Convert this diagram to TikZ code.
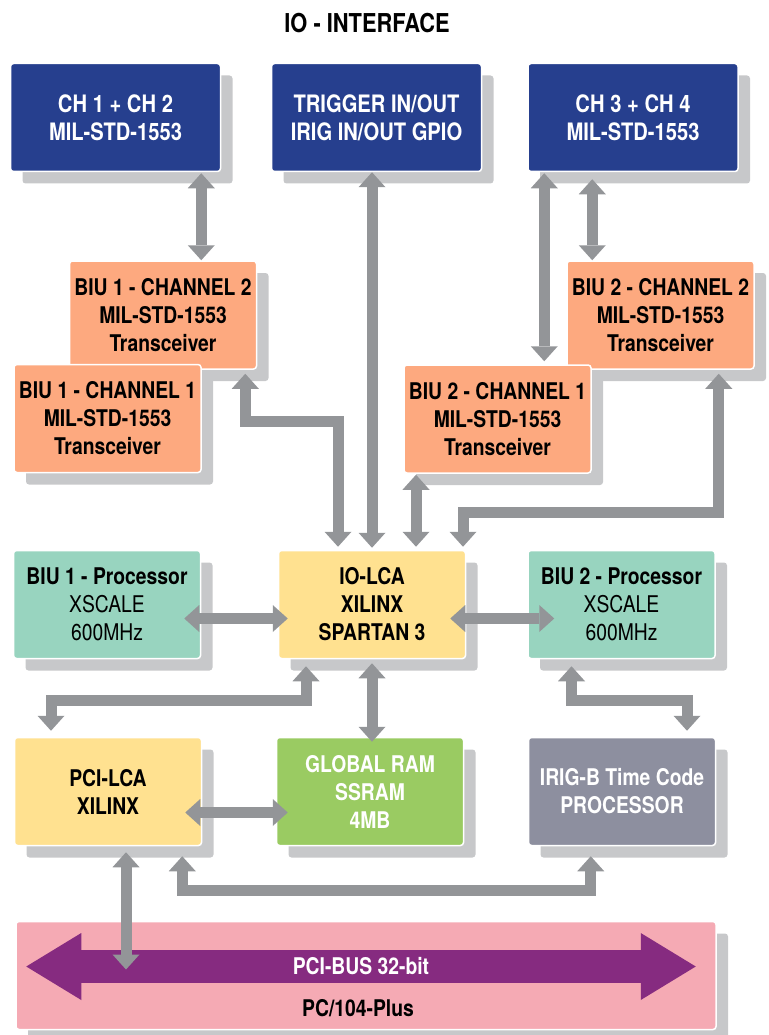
\documentclass[tikz,border=0pt]{standalone}
\usepackage{fontspec}
\setmainfont{TeX Gyre Heros}[FakeStretch=0.84]
\usetikzlibrary{arrows.meta,shadows}

\definecolor{chblue}{HTML}{263F8E}
\definecolor{biusalmon}{HTML}{FDA97F}
\definecolor{procteal}{HTML}{98D4BF}
\definecolor{lcayellow}{HTML}{FFE190}
\definecolor{ramgreen}{HTML}{9ACB62}
\definecolor{iriggray}{HTML}{8D8F9F}
\definecolor{buspink}{HTML}{F5AAB4}
\definecolor{busviolet}{HTML}{862B80}
\definecolor{linkgray}{HTML}{939598}
\definecolor{shadowgray}{HTML}{C7C8CA}

\tikzset{
  box/.style={rounded corners=3pt, draw=white, line width=1.5pt, inner sep=0pt,
    align=center, minimum width=187pt, minimum height=108pt,
    font=\fontsize{23}{28}\selectfont\bfseries,
    drop shadow={shadow xshift=12pt, shadow yshift=-12pt, fill=shadowgray, opacity=1}},
  chbox/.style={box, fill=chblue, text=white, minimum width=210pt,
    font=\fontsize{24}{28}\selectfont\bfseries},
  biubox/.style={box, fill=biusalmon},
  procbox/.style={box, fill=procteal},
  lcabox/.style={box, fill=lcayellow},
  rambox/.style={box, fill=ramgreen, text=white},
  irigbox/.style={box, fill=iriggray, text=white},
  busbox/.style={box, fill=buspink, minimum width=700pt},
  link/.style={draw=linkgray, line width=11pt, line join=miter,
    {Triangle[length=15pt,width=27pt,line width=0pt]}-{Triangle[length=15pt,width=27pt,line width=0pt]}},
  busarrow/.style={draw=busviolet, line width=33pt,
    {Triangle[length=55pt,width=67pt,line width=0pt]}-{Triangle[length=55pt,width=67pt,line width=0pt]}},
}

\begin{document}
\begin{tikzpicture}[x=1pt,y=-1pt]
\useasboundingbox (0,0) rectangle (768,1035);

\node[font=\fontsize{26}{30}\selectfont\bfseries] (title) at (367,23) {IO - INTERFACE};

% top row
\node[chbox] (ch12) at (115.5,117.5) {CH 1 + CH 2\\MIL-STD-1553};
\node[chbox] (trig) at (376.5,117.5) {TRIGGER IN/OUT\\IRIG IN/OUT GPIO};
\node[chbox] (ch34) at (633,117.5) {CH 3 + CH 4\\MIL-STD-1553};

% transceivers
\node[biubox] (biu1ch2) at (163,315) {BIU 1 - CHANNEL 2\\MIL-STD-1553\\Transceiver};
\node[biubox] (biu1ch1) at (107.5,418.5) {BIU 1 - CHANNEL 1\\MIL-STD-1553\\Transceiver};
\node[biubox] (biu2ch2) at (660.5,315) {BIU 2 - CHANNEL 2\\MIL-STD-1553\\Transceiver};
\node[biubox] (biu2ch1) at (497.5,419) {BIU 2 - CHANNEL 1\\MIL-STD-1553\\Transceiver};

% processors and LCA
\node[procbox] (proc1) at (107,604.5) {BIU 1 - Processor\\{\mdseries XSCALE}\\{\mdseries 600MHz}};
\node[lcabox] (iolca) at (372,604.5) {IO-LCA\\XILINX\\SPARTAN 3};
\node[procbox] (proc2) at (621.5,604.5) {BIU 2 - Processor\\{\mdseries XSCALE}\\{\mdseries 600MHz}};

\node[lcabox] (pcilca) at (108,791.5) {PCI-LCA\\XILINX};
\node[rambox] (ram) at (370,791.5) {GLOBAL RAM\\SSRAM\\4MB};
\node[irigbox] (irig) at (622,791.5) {IRIG-B Time Code\\PROCESSOR};

% bus
\node[busbox] (bus) at (366,975.5) {};
\draw[busarrow] ([xshift=11pt,yshift=9pt]bus.west) -- ([xshift=-21pt,yshift=9pt]bus.east)
  node[midway, text=white, font=\fontsize{23}{28}\selectfont\bfseries] (pcibus) {PCI-BUS 32-bit};
\node[font=\fontsize{23}{28}\selectfont\bfseries] (pc104) at ([xshift=-8pt,yshift=-33pt]bus.center) {PC/104-Plus};

% links
\draw[link] ([xshift=-20pt,yshift=-1pt]ch12.south east) -- ([xshift=-20pt]ch12.south east |- biu1ch2.north);
\draw[link] (trig.south -| iolca.north) -- ([yshift=2pt]iolca.north);
\draw[link] ([xshift=17pt,yshift=-1pt]ch34.south west) -- ([xshift=17pt,yshift=3pt]ch34.south west |- biu2ch1.north);
\draw[link] ([xshift=65pt,yshift=-7pt]ch34.south west) -- ([xshift=65pt]ch34.south west |- biu2ch2.north);

\draw[link] ([xshift=-12pt,yshift=-4pt]biu1ch2.south east) -- ++(0,48) -| ([xshift=-34pt,yshift=3pt]iolca.north);
\draw[link] ([xshift=44pt,yshift=-1pt]iolca.north |- biu2ch1.south) -- ([xshift=44pt,yshift=3pt]iolca.north);
\draw[link] ([xshift=-36pt,yshift=-4pt]biu2ch2.south east) -- ++(0,139) -| ([xshift=91pt,yshift=3pt]iolca.north);

\draw[link] ([xshift=-17pt,yshift=-14pt]proc1.east) -- ([xshift=10pt,yshift=-14pt]iolca.west);
\draw[link] ([xshift=-16pt,yshift=-14pt]iolca.east) -- ([xshift=27pt,yshift=-14pt]proc2.west);

\draw[link] ([xshift=-66pt,yshift=-7pt]iolca.south) -- ++(0,34) -| ([xshift=-57pt,yshift=6pt]pcilca.north);
\draw[link] ([yshift=-4pt]iolca.south) -- ([yshift=-5pt]iolca.south |- ram.north);
\draw[link] ([xshift=-50pt,yshift=-7pt]proc2.south) -- ++(0,34) -| ([xshift=65pt,yshift=6pt]irig.north);

\draw[link] ([xshift=-17pt,yshift=-21pt]pcilca.east) -- ([xshift=12pt,yshift=-21pt]ram.west);
\draw[link] ([xshift=18pt,yshift=-6pt]pcilca.south) -- ([xshift=18pt,yshift=6pt]pcilca.south |- bus.center);
\draw[link] ([xshift=-20pt,yshift=-10pt]pcilca.south east) -- ++(0,34) -| ([xshift=63pt,yshift=-10pt]irig.south west);
\end{tikzpicture}
\end{document}
